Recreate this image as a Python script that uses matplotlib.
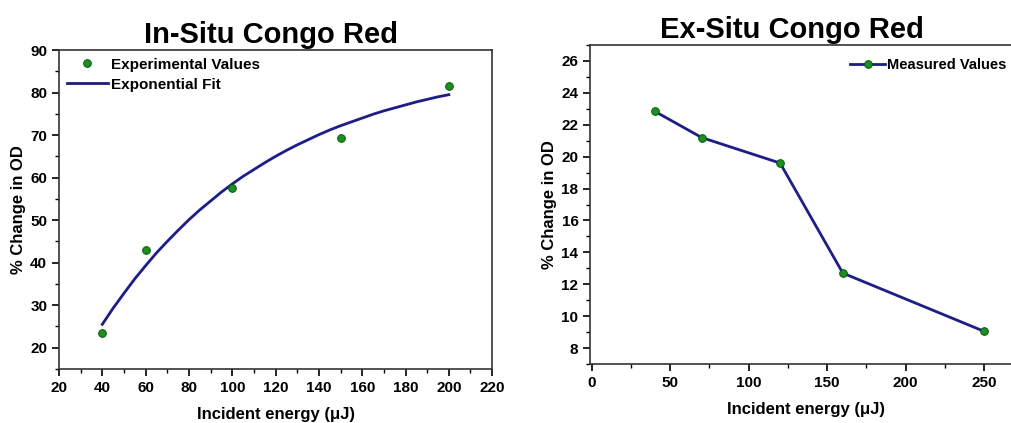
import matplotlib.pyplot as plt
from matplotlib.ticker import MultipleLocator

plt.rcParams['font.family'] = ['Liberation Sans', 'DejaVu Sans']

# In-situ data
insitu_energy = [40, 60, 100, 150, 200]
insitu_change = [23.5, 43.0, 57.5, 69.3, 81.5]
# exponential fit curve
fit_energy = [40, 45, 50, 55, 60, 65, 70, 75, 80, 85, 90, 95, 100, 105, 110, 115, 120,
              125, 130, 135, 140, 145, 150, 155, 160, 165, 170, 175, 180, 185, 190, 195, 200]
fit_change = [25.5, 29.3, 32.8, 36.2, 39.3, 42.3, 45.0, 47.6, 50.1, 52.4, 54.5, 56.6, 58.5,
              60.3, 61.9, 63.5, 65.0, 66.4, 67.7, 68.9, 70.1, 71.2, 72.2, 73.1, 74.0, 74.9,
              75.7, 76.4, 77.1, 77.8, 78.4, 79.0, 79.5]

# Ex-situ data
exsitu_energy = [40, 70, 120, 160, 250]
exsitu_change = [22.85, 21.2, 19.6, 12.7, 9.05]

line_col = '#1a1a9c'
dot_face = '#17931a'
dot_edge = '#005a00'

fig = plt.figure(figsize=(10.12, 4.23), dpi=100)
ax1 = fig.add_axes([0.0583, 0.1277, 0.428, 0.754])
ax2 = fig.add_axes([0.5833, 0.1395, 0.4355, 0.754])
w1 = 1012 * 0.428
w2 = 1012 * 0.4355

ax1.plot(insitu_energy, insitu_change, 'o', ms=5.5, mfc=dot_face, mec=dot_edge,
         mew=0.7, label='Experimental Values', zorder=3)
ax1.plot(fit_energy, fit_change, '-', color=line_col, lw=2, label='Exponential Fit')
ax1.set_xlim(20, 220)
ax1.set_ylim(15, 90)
ax1.xaxis.set_major_locator(MultipleLocator(20))
ax1.xaxis.set_minor_locator(MultipleLocator(10))
ax1.yaxis.set_major_locator(MultipleLocator(10))
ax1.yaxis.set_minor_locator(MultipleLocator(5))
ax1.set_title('In-Situ Congo Red', fontsize=21, fontweight='bold', pad=5,
              x=(0.5 * w1 - 5) / w1)
ax1.set_xlabel('Incident energy (μJ)', fontsize=12, fontweight='bold', labelpad=9)
ax1.set_ylabel('% Change in OD', fontsize=12, fontweight='bold', labelpad=3)
ax1.legend(loc='upper left', frameon=False, prop={'weight': 'bold', 'size': 11},
           handlelength=2.7, handletextpad=0.2, borderaxespad=0.2, labelspacing=0.4,
           borderpad=0.3)

ax2.plot(exsitu_energy, exsitu_change, '-o', color=line_col, lw=2, ms=5.5, mfc=dot_face,
         mec=dot_edge, mew=0.7, label='Measured Values')
ax2.set_xlim(-1, 280)
ax2.set_ylim(7, 27)
ax2.xaxis.set_major_locator(MultipleLocator(50))
ax2.xaxis.set_minor_locator(MultipleLocator(25))
ax2.yaxis.set_major_locator(MultipleLocator(2))
ax2.yaxis.set_minor_locator(MultipleLocator(1))
ax2.set_title('Ex-Situ Congo Red', fontsize=21, fontweight='bold', pad=5,
              x=(0.5 * w2 - 18.5) / w2)
ax2.set_xlabel('Incident energy (μJ)', fontsize=12, fontweight='bold', labelpad=9,
               x=(806 - 590.3) / w2)
ax2.set_ylabel('% Change in OD', fontsize=12, fontweight='bold', labelpad=3)
ax2.legend(loc='upper left', bbox_to_anchor=(0.56, 1.0), frameon=False,
           prop={'weight': 'bold', 'size': 10.5}, handlelength=2.4, handletextpad=0.15)

for ax in (ax1, ax2):
    for s in ax.spines.values():
        s.set_linewidth(1.2)
        s.set_color('#333333')
    ax.tick_params(which='both', direction='out', top=False, right=False)
    ax.tick_params(which='major', length=5, width=1.2, labelsize=11)
    ax.tick_params(which='minor', length=3, width=1)
    for lab in ax.get_xticklabels() + ax.get_yticklabels():
        lab.set_fontweight('bold')

fig.savefig('out.png', dpi=100)
